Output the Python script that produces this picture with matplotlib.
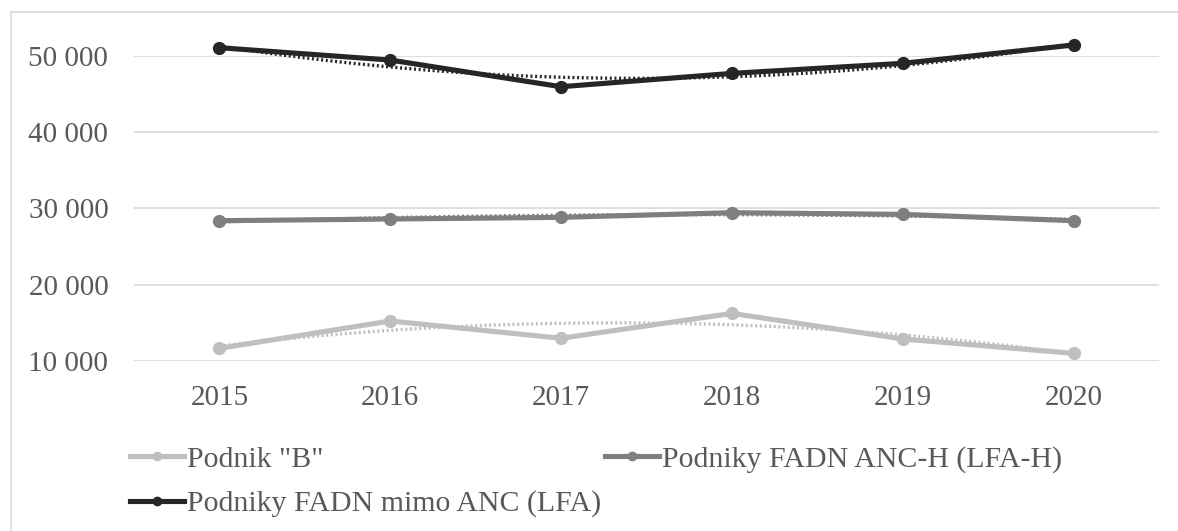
import numpy as np
import matplotlib
matplotlib.use("Agg")
import matplotlib.pyplot as plt
from matplotlib.lines import Line2D
from matplotlib.patches import Rectangle
from matplotlib.ticker import FuncFormatter

years = ["2015", "2016", "2017", "2018", "2019", "2020"]
podnik_b = [11660, 15250, 12980, 16240, 12890, 11000]
anc_h = [28400, 28620, 28840, 29450, 29230, 28400]
mimo_anc = [51090, 49470, 45970, 47720, 49040, 51440]

labels = ['Podnik "B"', 'Podniky FADN ANC-H (LFA-H)', 'Podniky FADN mimo ANC (LFA)']
colors = ["#BFBFBF", "#7F7F7F", "#262626"]
series = [podnik_b, anc_h, mimo_anc]

plt.rcParams['font.family'] = ['Liberation Serif', 'DejaVu Serif']
W, H = 1178, 531
fig = plt.figure(figsize=(W / 100, H / 100), dpi=100)

# chart border
fig.patches.append(Rectangle((10.5 / W, -0.1), 1.2, (H - 11.5) / H + 0.1,
                             transform=fig.transFigure, fill=False,
                             edgecolor="#D9D9D9", linewidth=1.2))

left, right = 134 / W, 1159 / W
top, bottom = 1 - 56 / H, 1 - 361 / H
ax = fig.add_axes([left, bottom, right - left, top - bottom])

x = np.arange(len(years))
xs = np.linspace(0, len(years) - 1, 200)
for vals, c, lab in zip(series, colors, labels):
    coef = np.polyfit(x, vals, 2)
    ax.plot(xs, np.polyval(coef, xs), color=c, linestyle=(0, (0.6, 0.8)),
            linewidth=2.4, clip_on=False, zorder=2)
    ax.plot(x, vals, color=c, linewidth=3.7, marker="o", markersize=8.5,
            clip_on=False, zorder=3, label=lab)

ax.set_xlim(-0.5, len(years) - 0.5)
ax.set_ylim(10000, 50000)
ax.set_yticks([10000, 20000, 30000, 40000, 50000])
ax.yaxis.set_major_formatter(FuncFormatter(lambda v, p: f"{int(v):,}".replace(",", " ")))
ax.set_xticks(x)
ax.set_xticklabels(years)
ax.grid(axis="y", color="#D9D9D9", linewidth=1.2)
ax.set_axisbelow(True)
for s in ax.spines.values():
    s.set_visible(False)
ax.tick_params(length=0, labelsize=21, labelcolor="#595959")
ax.tick_params(axis="y", pad=18.5)
ax.tick_params(axis="x", pad=17)

handles = [Line2D([0], [0], color=c, linewidth=3.7, marker="o", markersize=6)
           for c in colors]
order = [0, 2, 1]
fig.legend([handles[i] for i in order], [labels[i] for i in order],
           loc="upper left", bbox_to_anchor=(118 / W, 1 - 434 / H),
           ncol=2, frameon=False, fontsize=21.5, labelcolor="#595959",
           handlelength=1.8, handletextpad=0.1, columnspacing=0.15,
           labelspacing=0.58, borderaxespad=0)

fig.savefig("out.png", dpi=100)
